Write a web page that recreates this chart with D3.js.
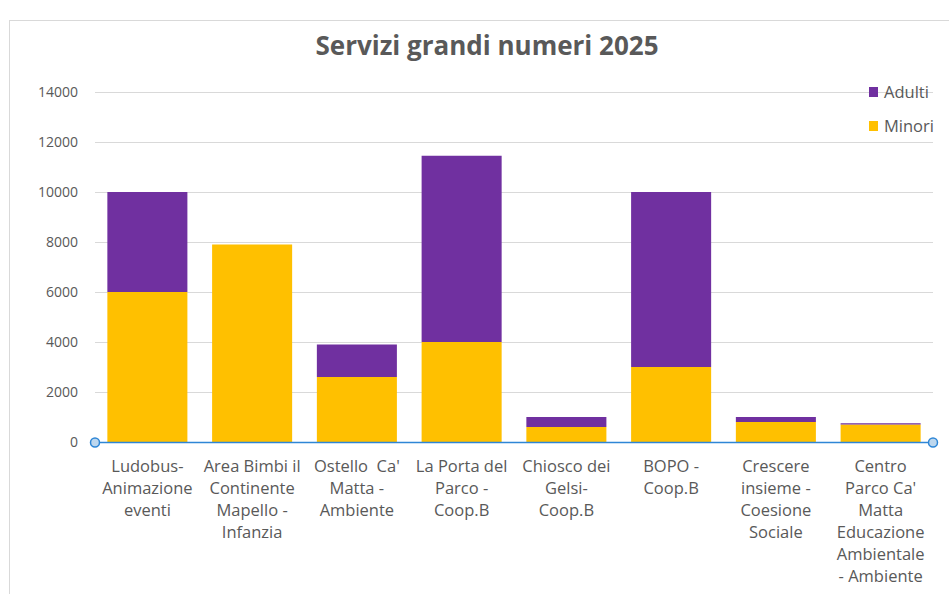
<!DOCTYPE html>
<html><head><meta charset="utf-8">
<script src="https://cdn.jsdelivr.net/npm/d3@7"></script>
<style>body{margin:0;background:#fff;} svg{display:block;}</style>
</head><body>
<svg id="c" width="949" height="594"></svg>
<script>
const categories = [
  "Ludobus-\nAnimazione\neventi",
  "Area Bimbi il\nContinente\nMapello -\nInfanzia",
  "Ostello  Ca'\nMatta -\nAmbiente",
  "La Porta del\nParco -\nCoop.B",
  "Chiosco dei\nGelsi-\nCoop.B",
  "BOPO -\nCoop.B",
  "Crescere\ninsieme -\nCoesione\nSociale",
  "Centro\nParco Ca'\nMatta\nEducazione\nAmbientale\n- Ambiente"
];
const minori = [6000, 7900, 2600, 4000, 600, 3000, 800, 700];
const adulti = [4000, 0, 1300, 7450, 400, 7000, 200, 50];
const yTicks = [0, 2000, 4000, 6000, 8000, 10000, 12000, 14000];
const seriesNames = ["Minori", "Adulti"];
const colors = {Minori: "#FFC000", Adulti: "#7030A0"};
const title = "Servizi grandi numeri 2025";

const svg = d3.select("#c");
const font = "'Open Sans', sans-serif";
const textColor = "#595959";

// chart border
svg.append("rect").attr("x", 9.5).attr("y", 20.5).attr("width", 960).attr("height", 600)
  .attr("fill", "none").attr("stroke", "#d9d9d9");

const x0 = 95, x1 = 933, yTop = 92, yBot = 442;
const x = d3.scaleBand().domain(d3.range(categories.length)).range([x0, x1]).paddingInner(0.236).paddingOuter(0.118);
const y = d3.scaleLinear().domain([0, 14000]).range([yBot, yTop]);

// gridlines
svg.append("g").selectAll("line").data(yTicks.filter(t => t > 0)).join("line")
  .attr("x1", x0).attr("x2", x1).attr("y1", d => y(d) + 0.5).attr("y2", d => y(d) + 0.5)
  .attr("stroke", "#d9d9d9").attr("stroke-width", 1);

// y axis labels
const yAxis = d3.axisLeft(y).tickValues(yTicks).tickSize(0).tickPadding(0).tickFormat(d3.format("d"));
const ya = svg.append("g").attr("transform", `translate(78,0)`).call(yAxis);
ya.select(".domain").remove();
ya.selectAll("text").attr("font-family", font).attr("font-size", 14).attr("fill", textColor);

// stacked data
const rows = categories.map((c, i) => ({i, Minori: minori[i], Adulti: adulti[i]}));
const stack = d3.stack().keys(seriesNames)(rows);
svg.append("g").selectAll("g").data(stack).join("g").attr("fill", d => colors[d.key])
  .selectAll("rect").data(d => d).join("rect")
  .attr("x", d => x(d.data.i)).attr("width", x.bandwidth())
  .attr("y", d => y(d[1])).attr("height", d => Math.max(0, y(d[0]) - y(d[1])));

// x axis line with handles
svg.append("line").attr("x1", x0).attr("x2", x1).attr("y1", yBot + 0.5).attr("y2", yBot + 0.5)
  .attr("stroke", "#2E86D6").attr("stroke-width", 1.5);
[x0, x1].forEach(px => svg.append("circle").attr("cx", px).attr("cy", yBot + 0.5).attr("r", 4.5)
  .attr("fill", "#BDD7EE").attr("stroke", "#2E86D6").attr("stroke-width", 1.5));

// category labels
const xl = svg.append("g");
categories.forEach((c, i) => {
  const cx = x(i) + x.bandwidth() / 2;
  const t = xl.append("text").attr("x", cx).attr("y", 472)
    .attr("text-anchor", "middle").attr("font-family", font).attr("font-size", 16.5).attr("fill", textColor)
    .style("white-space", "pre");
  c.split("\n").forEach((line, k) => {
    t.append("tspan").attr("x", cx).attr("y", 472 + k * 22).text(line);
  });
});

// title
svg.append("text").attr("x", 487).attr("y", 55).attr("text-anchor", "middle")
  .attr("font-family", font).attr("font-weight", 700).attr("font-size", 26).attr("fill", textColor).text(title);

// legend
const legendItems = ["Adulti", "Minori"];
const lg = svg.append("g");
legendItems.forEach((k, j) => {
  const ly = 92 + j * 34;
  lg.append("rect").attr("x", 869).attr("y", ly - 5).attr("width", 9).attr("height", 10).attr("fill", colors[k]);
  lg.append("text").attr("x", 884).attr("y", ly + 6).attr("font-family", font).attr("font-size", 16.5)
    .attr("fill", textColor).text(k);
});
</script>
</body></html>
